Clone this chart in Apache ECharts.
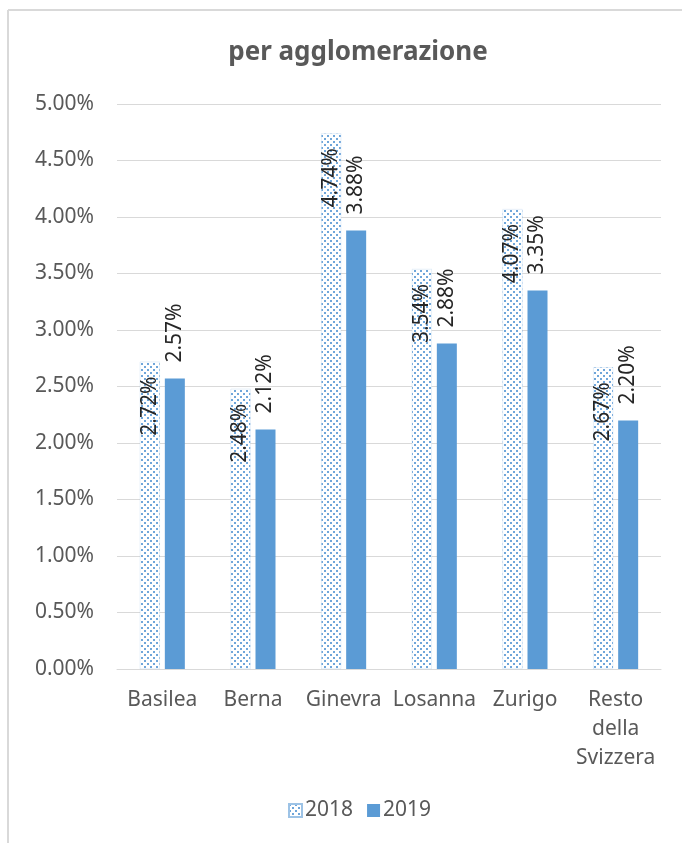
<!DOCTYPE html>
<html>
<head>
<meta charset="utf-8">
<script src="https://cdn.jsdelivr.net/npm/echarts@6/dist/echarts.min.js"></script>
<style>
  html, body { margin: 0; padding: 0; background: #fff; }
  #chart { width: 682px; height: 843px; }
</style>
</head>
<body>
<div id="chart"></div>
<script>
// dati (percentuali)
const categories = ["Basilea", "Berna", "Ginevra", "Losanna", "Zurigo", "Resto\ndella\nSvizzera"];
const values2018 = [2.72, 2.48, 4.74, 3.54, 4.07, 2.67];
const values2019 = [2.57, 2.12, 3.88, 2.88, 3.35, 2.20];
const seriesNames = ["2018", "2019"];

const FONT = "Noto Sans";
const BLUE = "#5b9bd5";

// motivo a puntini per il 2018
const makeDots = () => {
  const c = document.createElement("canvas");
  c.width = 6;
  c.height = 6;
  const ctx = c.getContext("2d");
  ctx.fillStyle = "#ffffff";
  ctx.fillRect(0, 0, 6, 6);
  ctx.fillStyle = "#6fa6da";
  ctx.fillRect(0, 0, 2, 2);
  ctx.fillRect(3, 3, 2, 2);
  return c;
};
const dotPattern = { image: makeDots(), repeat: "repeat" };

const fmt = (v) => Number(v).toFixed(2) + "%";

const chart = echarts.init(document.getElementById("chart"));
chart.setOption({
  animation: false,
  backgroundColor: "#fff",
  textStyle: { fontFamily: FONT },
  title: {
    text: "per agglomerazione",
    left: 353,
    textAlign: "center",
    top: 35,
    textStyle: { fontFamily: FONT, fontSize: 26, fontWeight: "bold", color: "#595959" }
  },
  graphic: [
    { type: "line", shape: { x1: 8, y1: 10, x2: 682, y2: 10 }, style: { stroke: "#d9d9d9", lineWidth: 2 } },
    { type: "line", shape: { x1: 8, y1: 10, x2: 8, y2: 843 }, style: { stroke: "#d9d9d9", lineWidth: 2 } }
  ],
  legend: {
    bottom: 17,
    left: 283,
    itemGap: 14,
    itemWidth: 13,
    itemHeight: 13,
    icon: "rect",
    textStyle: { fontFamily: FONT, fontSize: 21, color: "#595959", padding: [0, 0, 0, -2] },
    data: seriesNames
  },
  grid: { left: 117, right: 21, top: 104, bottom: 174 },
  xAxis: {
    type: "category",
    data: categories,
    axisLine: { lineStyle: { color: "#d9d9d9", width: 1 } },
    axisTick: { show: false },
    axisLabel: { fontFamily: FONT, fontSize: 21, color: "#595959", margin: 17, lineHeight: 29, interval: 0 }
  },
  yAxis: {
    type: "value",
    min: 0,
    max: 5,
    interval: 0.5,
    axisLine: { show: false },
    axisTick: { show: false },
    splitLine: { lineStyle: { color: "#d9d9d9", width: 1 } },
    axisLabel: { fontFamily: FONT, fontSize: 21, color: "#595959", margin: 23, formatter: fmt }
  },
  series: [
    {
      name: seriesNames[0],
      type: "bar",
      data: values2018,
      barWidth: 20,
      barGap: "25%",
      itemStyle: { color: dotPattern, borderColor: "#9dc3e6", borderWidth: 0.5, borderType: "dotted" },
      label: {
        show: true,
        position: "insideTop",
        distance: 15,
        rotate: 90,
        align: "right",
        verticalAlign: "middle",
        fontFamily: FONT,
        fontSize: 21,
        color: "#262626",
        formatter: (p) => fmt(p.value)
      }
    },
    {
      name: seriesNames[1],
      type: "bar",
      data: values2019,
      barWidth: 20,
      itemStyle: { color: BLUE },
      label: {
        show: true,
        position: "top",
        distance: 16,
        rotate: 90,
        align: "left",
        verticalAlign: "middle",
        fontFamily: FONT,
        fontSize: 21,
        color: "#262626",
        formatter: (p) => fmt(p.value)
      }
    }
  ]
});
</script>
</body>
</html>
